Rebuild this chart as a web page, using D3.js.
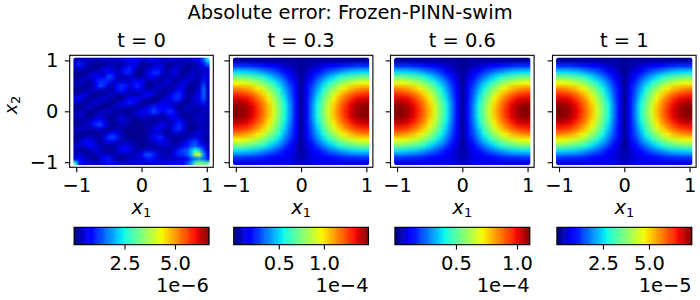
<!DOCTYPE html>
<html>
<head>
<meta charset="utf-8">
<script src="https://cdn.jsdelivr.net/npm/d3@7"></script>
<style>
    html, body { margin: 0; padding: 0; background: #fff; }
    svg { display: block; }
    text { font-family: "DejaVu Sans", sans-serif; font-size: 19.44px; fill: #000; }
    .tick line, .domain { stroke: #000; stroke-width: 1.1px; }
</style>
</head>
<body>
<svg id="chart" width="700" height="300"></svg>
<script>
const panelTitles = ["t = 0", "t = 0.3", "t = 0.6", "t = 1"];
const axisTicks = [-1, 0, 1];

// colorbar tops, in units of 10^cbExp
const cbTops = [6.68, 1.495, 1.104, 7.32];
const cbExp = [-6, -4, -4, -5];
const cbTicks = [[2.5, 5], [0.5, 1], [0.5, 1], [2.5, 5]];

// t = 0, error in units of 1e-7 (top row first)
const errorT0 = [
    [3,4,4,4,4,3,4,5,5,4,4,5,7,8,8,7,5,5,7,7,5,4,4,5,5,4,4,5,5,7,8,15,24],
    [5,11,7,3,2,2,1,1,2,3,3,2,3,5,8,5,2,1,2,3,5,5,2,1,2,3,3,2,2,3,5,10,16],
    [3,5,3,2,1,1,3,5,7,4,2,4,8,11,7,2,1,3,4,7,8,5,2,3,5,4,2,1,2,3,4,5,5],
    [1,1,1,2,4,5,4,4,7,8,4,5,10,10,4,1,1,4,8,11,11,5,2,4,7,4,1,2,4,4,3,5,4],
    [1,2,3,4,5,7,7,8,13,11,4,2,3,4,4,2,3,4,7,8,5,2,3,4,4,2,2,4,5,4,2,7,4],
    [2,4,4,2,3,7,11,11,10,5,4,5,5,3,7,8,7,3,2,3,2,3,5,4,2,3,5,5,3,2,3,10,4],
    [3,3,1,1,3,8,13,11,5,3,7,11,10,5,7,11,8,3,1,2,4,5,4,2,3,5,7,4,1,2,4,13,4],
    [1,1,2,3,3,4,4,3,2,3,7,10,8,4,4,7,5,3,3,4,4,2,2,3,5,7,5,2,1,3,5,15,4],
    [2,4,5,4,2,1,1,2,4,4,3,3,3,3,2,2,4,7,7,4,2,1,3,5,10,11,7,2,2,4,7,15,4],
    [5,7,4,2,2,3,4,5,4,2,1,1,3,7,8,7,5,4,3,1,1,3,5,7,11,11,5,2,2,5,7,14,4],
    [4,3,2,2,4,5,4,2,1,1,3,5,8,10,8,4,2,1,1,2,4,7,5,4,5,4,2,1,3,5,5,10,3],
    [1,1,2,4,4,2,1,1,2,4,4,4,4,3,2,2,3,4,8,11,8,7,8,7,3,1,2,4,4,3,3,5,3],
    [2,4,3,2,1,1,3,4,4,2,2,2,1,1,3,5,7,7,10,13,10,7,10,11,7,2,2,3,3,2,2,4,2],
    [3,5,3,1,2,4,5,3,2,2,3,4,3,2,2,4,5,4,4,5,4,2,4,8,8,4,1,1,2,3,4,4,2],
    [1,2,2,3,4,8,8,5,2,1,3,5,5,3,1,1,2,3,2,1,2,3,3,4,5,7,4,2,2,3,4,3,2],
    [1,2,3,4,7,11,13,8,3,1,2,3,3,2,1,1,1,2,2,3,5,7,4,3,7,11,8,3,1,2,3,3,2],
    [3,4,4,3,3,5,5,3,1,2,3,3,2,1,1,1,1,2,3,5,7,5,3,4,10,11,7,2,1,2,3,4,3],
    [3,3,1,1,1,1,2,3,5,8,7,3,1,1,1,1,1,1,3,5,5,3,2,3,5,5,3,2,3,5,5,4,2],
    [1,1,2,4,4,2,2,5,11,13,10,4,2,1,1,1,1,2,4,7,10,10,4,2,2,2,2,3,4,5,5,3,2],
    [2,4,7,8,7,3,2,4,7,7,4,3,3,3,2,1,1,2,3,4,7,7,5,3,2,2,4,7,11,13,8,4,2],
    [4,5,4,7,8,5,3,2,2,2,3,5,7,5,4,2,1,1,2,2,3,4,4,4,3,4,8,10,13,14,11,7,3],
    [3,1,1,2,4,5,4,2,1,2,4,7,8,7,3,2,3,5,5,4,3,2,2,3,5,10,13,14,20,26,22,12,4],
    [4,5,4,2,2,3,4,5,4,3,3,3,3,3,3,5,8,13,13,10,5,4,3,3,7,11,11,14,20,38,40,18,7],
    [5,8,5,3,1,2,5,8,10,5,2,1,2,4,4,4,5,8,10,8,4,3,4,4,4,4,5,8,13,16,18,15,10],
    [26,10,4,5,4,3,4,5,7,7,5,4,3,3,4,5,4,3,4,4,5,5,5,7,7,7,8,13,18,30,35,30,32]
];

// t = 0.3, 0.6, 1 look the same apart from the colorbar: percent of each top
const errorLater = [
    [3,3,3,3,3,3,3,3,3,3,3,3,2,3,3,3,3,3,3,3,3,3,3,3,3],
    [17,17,17,16,15,14,12,11,9,7,5,3,2,3,5,7,9,11,12,14,15,16,17,17,17],
    [34,34,33,32,30,27,24,21,17,13,9,5,2,5,9,13,17,21,24,27,30,32,33,34,34],
    [50,50,48,46,43,40,35,30,25,19,13,8,2,8,13,19,25,30,35,40,43,46,48,50,50],
    [64,64,62,59,56,51,45,39,32,25,17,9,2,9,17,25,32,39,45,51,56,59,62,64,64],
    [77,76,74,71,66,61,54,47,38,29,20,11,2,11,20,29,38,47,54,61,66,71,74,76,77],
    [87,86,84,80,75,69,61,53,43,33,22,12,2,12,22,33,43,53,61,69,75,80,84,86,87],
    [94,93,91,87,81,75,66,57,47,36,24,13,2,13,24,36,47,57,66,75,81,87,91,93,94],
    [99,98,96,91,85,78,70,60,49,38,26,13,2,13,26,38,49,60,70,78,85,91,96,98,99],
    [100,99,97,92,87,79,71,61,50,38,26,13,2,13,26,38,50,61,71,79,87,92,97,99,100],
    [99,98,96,91,85,78,70,60,49,38,26,13,2,13,26,38,49,60,70,78,85,91,96,98,99],
    [94,93,91,87,81,75,66,57,47,36,24,13,2,13,24,36,47,57,66,75,81,87,91,93,94],
    [87,86,84,80,75,69,61,53,43,33,22,12,2,12,22,33,43,53,61,69,75,80,84,86,87],
    [77,76,74,71,66,61,54,47,38,29,20,11,2,11,20,29,38,47,54,61,66,71,74,76,77],
    [64,64,62,59,56,51,45,39,32,25,17,9,2,9,17,25,32,39,45,51,56,59,62,64,64],
    [50,50,48,46,43,40,35,30,25,19,13,8,2,8,13,19,25,30,35,40,43,46,48,50,50],
    [34,34,33,32,30,27,24,21,17,13,10,6,3,6,10,13,17,21,24,27,30,32,33,34,34],
    [19,19,18,18,17,16,14,13,12,10,9,6,4,6,9,10,12,13,14,16,17,18,18,19,19],
    [9,9,9,9,9,9,9,9,9,9,8,6,5,6,8,9,9,9,9,9,9,9,9,9,9]
];

// jet colormap stops
const jetR = d3.scaleLinear().domain([0, 0.35, 0.66, 0.89, 1]).range([0, 0, 1, 1, 0.5]).clamp(true);
const jetG = d3.scaleLinear().domain([0, 0.125, 0.375, 0.64, 0.91, 1]).range([0, 0, 1, 1, 0, 0]).clamp(true);
const jetB = d3.scaleLinear().domain([0, 0.11, 0.34, 0.65, 1]).range([0.5, 1, 1, 0, 0]).clamp(true);
const jet = t => [jetR(t), jetG(t), jetB(t)].map(c => Math.round(c * 255));

const panelLeft = [69.7, 229.3, 390.5, 552.5];
const panelW = 143.6, panelTop = 55.3, panelH = 112;
const cbarY = 227.3, cbarH = 17.4, cbarW = 134.8;
const markerPad = 3;

const svg = d3.select("#chart");

// grid -> small canvas -> stretched image, so the browser smooths the cells
function gridImage(rows, color) {
    const canvas = document.createElement("canvas");
    canvas.width = rows[0].length;
    canvas.height = rows.length;
    const ctx = canvas.getContext("2d");
    const img = ctx.createImageData(canvas.width, canvas.height);
    rows.forEach((row, j) => row.forEach((v, i) => {
        const [r, g, b] = color(v);
        img.data.set([r, g, b, 255], (j * canvas.width + i) * 4);
    }));
    ctx.putImageData(img, 0, 0);
    return canvas.toDataURL();
}

function subLabel(sel, sub) {
    sel.append("tspan").attr("font-style", "italic").text("x");
    sel.append("tspan").attr("dy", 3).style("font-size", "13px").text(sub);
}

function drawPanel(idx) {
    const left = panelLeft[idx];
    const g = svg.append("g");
    const x = d3.scaleLinear().domain([-1.1, 1.1]).range([left, left + panelW]);
    const y = d3.scaleLinear().domain([-1.1, 1.1]).range([panelTop + panelH, panelTop]);
    const top = cbTops[idx];
    const norm = d3.scaleLinear().domain([0, top]).range([0, 1]);

    const rows = idx === 0 ? errorT0 : errorLater;
    const toValue = idx === 0 ? v => v / 10 : v => v / 100 * top;
    const clipId = `clip-${idx}`;
    const ix = x(-1) - markerPad, iy = y(1) - markerPad;
    const iw = x(1) - x(-1) + 2 * markerPad, ih = y(-1) - y(1) + 2 * markerPad;

    g.append("clipPath").attr("id", clipId).append("rect")
        .attr("x", ix).attr("y", iy).attr("width", iw).attr("height", ih).attr("rx", 3);
    g.append("image")
        .attr("href", gridImage(rows, v => jet(norm(toValue(v)))))
        .attr("x", ix).attr("y", iy).attr("width", iw).attr("height", ih)
        .attr("preserveAspectRatio", "none")
        .attr("clip-path", `url(#${clipId})`);

    g.append("rect")
        .attr("x", left).attr("y", panelTop).attr("width", panelW).attr("height", panelH)
        .attr("fill", "none").attr("stroke", "#000").attr("stroke-width", 1.1);

    const xAxis = d3.axisBottom(x).tickValues(axisTicks).tickSize(4.9).tickPadding(6).tickFormat(d3.format("d"));
    const gx = g.append("g").attr("transform", `translate(0,${panelTop + panelH})`).call(xAxis);
    const yAxis = d3.axisLeft(y).tickValues(axisTicks).tickSize(4.9).tickPadding(6.5).tickFormat(d3.format("d"));
    const gy = g.append("g").attr("transform", `translate(${left},0)`).call(yAxis);
    gx.select(".domain").remove();
    gy.select(".domain").remove();
    if (idx > 0) gy.selectAll("text").remove();

    g.append("text").attr("x", left + panelW / 2).attr("y", panelTop - 8.5)
        .attr("text-anchor", "middle").text(panelTitles[idx]);
    g.append("text").attr("x", left + panelW / 2).attr("y", 214)
        .attr("text-anchor", "middle").call(subLabel, "1");
    if (idx === 0) {
        g.append("text").attr("transform", "translate(16.5,105) rotate(-90)")
            .attr("text-anchor", "middle").style("font-size", "17.5px").call(subLabel, "2");
    }

    drawColorbar(idx);
}

function drawColorbar(idx) {
    const top = cbTops[idx];
    const cx = panelLeft[idx] + panelW / 2;
    const left = cx - cbarW / 2;
    const g = svg.append("g");
    const x = d3.scaleLinear().domain([0, top]).range([left, left + cbarW]);
    const steps = d3.range(256).map(i => i / 256 * top);

    g.append("g").selectAll("rect").data(steps).join("rect")
        .attr("x", d => x(d))
        .attr("y", cbarY)
        .attr("width", cbarW / 256 + 0.5)
        .attr("height", cbarH)
        .attr("fill", d => `rgb(${jet(d / top).join(",")})`);

    g.append("rect")
        .attr("x", left).attr("y", cbarY).attr("width", cbarW).attr("height", cbarH)
        .attr("fill", "none").attr("stroke", "#000").attr("stroke-width", 1.1);

    const axis = d3.axisBottom(x).tickValues(cbTicks[idx]).tickSize(4.9).tickPadding(7).tickFormat(d3.format(".1f"));
    const ga = g.append("g").attr("transform", `translate(0,${cbarY + cbarH})`).call(axis);
    ga.select(".domain").remove();

    g.append("text").attr("x", left + cbarW).attr("y", 292)
        .attr("text-anchor", "end").text(`1e\u2212${-cbExp[idx]}`);
}

svg.append("text").attr("x", 350).attr("y", 19)
    .attr("text-anchor", "middle").text("Absolute error: Frozen-PINN-swim");

panelTitles.forEach((d, i) => drawPanel(i));
</script>
</body>
</html>
